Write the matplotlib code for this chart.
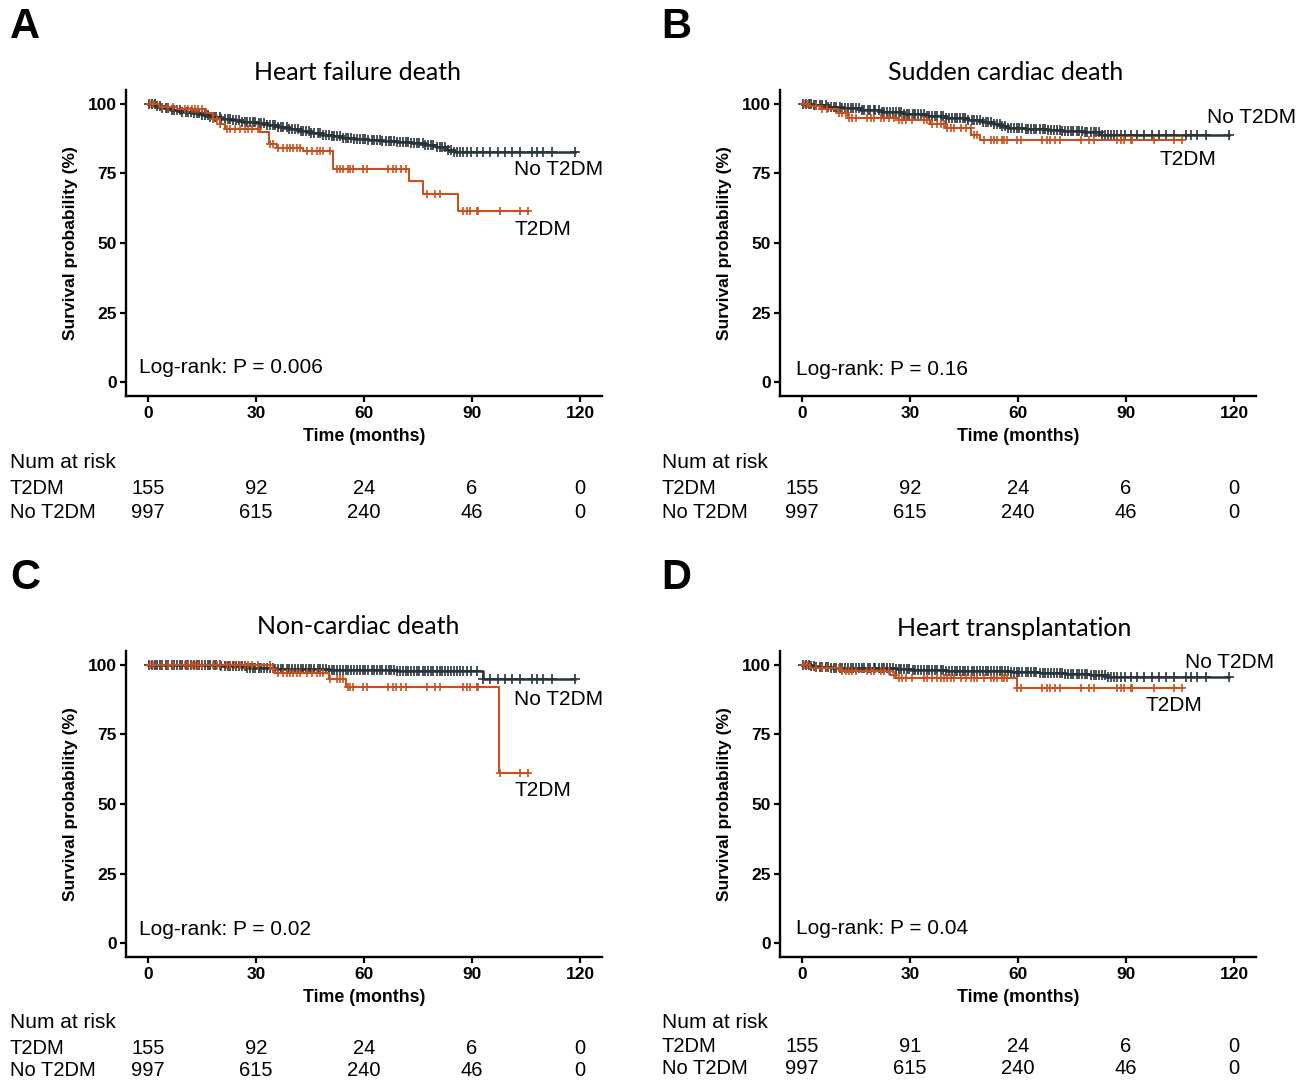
import matplotlib
matplotlib.use('Agg')
import matplotlib.pyplot as plt
import matplotlib.transforms as mtransforms
import numpy as np

W, H = 1306, 1081
COL_T2DM = '#c8501e'
COL_NO = '#28343a'
SANS = 'Liberation Sans'
TITLE_FONT = 'Lato'

# ---- Kaplan-Meier step data (time of step, survival % after step) ----
a_no_t = [0, 2, 4, 6, 9, 12, 15, 17, 20, 23, 26, 30, 33, 36, 39, 42, 45, 48, 51, 54, 57, 61, 65, 69, 73, 77, 80, 83, 85]
a_no_s = [100, 99.4, 98.6, 97.8, 97.2, 96.7, 96.0, 95.2, 94.6, 94.1, 93.6, 93.0, 92.4, 91.8, 91.0, 90.2, 89.5, 88.9,
          88.4, 87.9, 87.5, 87.1, 86.7, 86.3, 85.8, 85.3, 84.6, 83.6, 82.7]
a_dm_t = [0, 3, 8, 16, 18, 20, 21.5, 31, 33.5, 35.7, 43, 51.5, 72.5, 76.5, 86]
a_dm_s = [100, 99.0, 98.0, 96.6, 94.4, 92.6, 91.0, 89.8, 85.5, 84.3, 82.9, 76.6, 72.3, 67.7, 61.5]

b_no_t = [0, 3, 7, 11, 16, 22, 28, 34, 40, 46, 50, 53, 55, 57, 62, 68, 72, 78, 83]
b_no_s = [100, 99.5, 99.0, 98.4, 97.8, 97.1, 96.4, 95.6, 94.9, 94.1, 93.5, 92.8, 92.0, 91.2, 90.9, 90.6, 90.3, 89.8, 89.0]
b_dm_t = [0, 1.7, 5, 10, 12.8, 27, 35.5, 40, 47, 49.4]
b_dm_s = [100, 99.1, 98.1, 96.9, 95.0, 94.1, 92.9, 91.2, 88.8, 86.9]

c_no_t = [0, 20, 27, 35, 50, 69, 93]
c_no_s = [100, 99.5, 98.8, 98.4, 98.1, 97.8, 95.0]
c_dm_t = [0, 34, 35, 50.3, 55, 97.5]
c_dm_s = [100, 98.4, 97.2, 95.1, 92.0, 61.2]

d_no_t = [0, 2, 4, 8, 14, 20, 26, 30, 40, 50, 58, 66, 73, 80, 84.5]
d_no_s = [100, 99.6, 99.3, 99.0, 98.9, 98.8, 98.4, 98.2, 97.9, 97.7, 97.5, 97.2, 96.8, 96.3, 95.6]
d_dm_t = [0, 2.3, 10.5, 24.4, 26.2, 59.7]
d_dm_s = [100, 98.8, 97.8, 96.3, 95.3, 91.6]

end_no = 118.6
end_dm = 105.6

# censoring times (same cohort in every panel)
cens_no = [0.4, 1.1, 1.9, 2.5, 3.4, 4.0, 4.9, 5.5, 6.6, 7.1, 8.0, 8.9, 9.4, 10.5, 11.2, 11.9, 12.8, 13.6,
           14.2, 15.1, 15.8, 16.7, 17.3, 18.2, 19.0, 19.9, 20.4, 21.3, 22.1, 22.9, 23.5, 24.4, 25.2, 26.0,
           26.9, 27.4, 28.3, 29.2, 29.8, 30.7, 31.5, 32.1, 33.0, 33.9, 34.6, 35.2, 36.1, 37.0, 37.6, 38.5,
           39.3, 40.1, 40.7, 41.6, 42.4, 43.0, 43.9, 44.8, 45.3, 46.2, 47.1, 47.7, 48.6, 49.5, 50.2, 51.0,
           51.8, 52.5, 53.3, 54.2, 54.9, 55.6, 56.5, 57.3, 58.0, 58.8, 59.7, 60.3, 61.2, 62.1, 62.7, 63.6,
           64.5, 65.1, 66.0, 66.9, 67.5, 68.4, 69.2, 69.9, 70.7, 71.6, 72.2, 73.1, 73.9, 74.6, 75.4, 76.3,
           77.0, 77.8, 78.7, 79.3, 80.2, 81.0, 81.7, 82.6, 83.4, 84.1, 85.0, 85.9, 86.7, 87.4, 88.5, 89.6,
           91.3, 93.1, 95.0, 97.3, 99.2, 101.0, 103.3, 106.6, 108.0, 109.8, 112.1, 118.6]
cens_dm = [0.6, 1.5, 3.8, 5.6, 7.0, 10.3, 11.2, 12.1, 13.0, 14.0, 14.9, 18.1, 19.1, 20.0, 21.9, 22.8,
           24.2, 25.6, 27.0, 27.9, 28.8, 30.6, 33.9, 34.8, 36.0, 37.6, 38.5, 39.4, 40.4, 41.3, 42.2, 44.1,
           45.5, 46.9, 47.8, 48.7, 50.6, 52.4, 53.3, 54.3, 55.5, 56.1, 57.0, 59.8, 60.7, 66.8, 68.1, 69.0,
           70.4, 71.8, 77.4, 79.7, 81.1, 87.6, 88.5, 89.4, 91.3, 91.8, 97.8, 103.3, 105.6]

# ---- panel texts ----
letters = ['A', 'B', 'C', 'D']
titles = ['Heart failure death', 'Sudden cardiac death', 'Non-cardiac death', 'Heart transplantation']
pvals = ['Log-rank: P = 0.006', 'Log-rank: P = 0.16', 'Log-rank: P = 0.02', 'Log-rank: P = 0.04']
risk_times = [0, 30, 60, 90, 120]
risk_dm = [[155, 92, 24, 6, 0], [155, 92, 24, 6, 0], [155, 92, 24, 6, 0], [155, 91, 24, 6, 0]]
risk_no = [[997, 615, 240, 46, 0]] * 4

curves = [(a_no_t, a_no_s, a_dm_t, a_dm_s), (b_no_t, b_no_s, b_dm_t, b_dm_s),
          (c_no_t, c_no_s, c_dm_t, c_dm_s), (d_no_t, d_no_s, d_dm_t, d_dm_s)]

# layout in pixels
layout = [
    dict(ax=(126.4, 90, 475.2, 306), letter=(25, 27), title=(358, 73), ylab=70,
         no_lab=(101.7, 76.3), dm_lab=(101.7, 55.0), p=(-2.4, 5.4), rows=(10, 462, 489, 512)),
    dict(ax=(780.4, 90, 475.2, 306), letter=(676, 27), title=(1006, 73), ylab=724,
         no_lab=(112.5, 95.0), dm_lab=(99.4, 79.9), p=(-1.6, 4.7), rows=(662, 462, 489, 512)),
    dict(ax=(126.4, 651, 475.2, 306), letter=(25, 578), title=(358, 626), ylab=70,
         no_lab=(101.7, 87.4), dm_lab=(101.7, 55.0), p=(-2.4, 5.0), rows=(10, 1023, 1049, 1071)),
    dict(ax=(780.4, 651, 475.2, 306), letter=(676, 578), title=(1014, 629), ylab=724,
         no_lab=(106.4, 100.7), dm_lab=(95.3, 85.3), p=(-1.6, 5.4), rows=(662, 1023, 1047, 1069)),
]


def fx(x):
    return x / W


def fy(y):
    return 1 - y / H


def km_line(ax, times, surv, end, cens, color, lw, ms):
    t = list(times) + [end]
    s = list(surv) + [surv[-1]]
    ax.step(t, s, where='post', color=color, lw=lw, zorder=3)
    # censor marks sit on the curve
    c = np.array([v for v in cens if v <= end])
    idx = np.searchsorted(np.array(times), c, side='right') - 1
    ax.plot(c, np.array(surv)[idx], ls='none', marker='+', ms=ms, mew=1.2, color=color, zorder=3)


fig = plt.figure(figsize=(W / 100, H / 100), dpi=100)

for i in range(4):
    L = layout[i]
    x0, y0, w, h = L['ax']
    ax = fig.add_axes([fx(x0), fy(y0 + h), w / W, h / H])
    no_t, no_s, dm_t, dm_s = curves[i]
    km_line(ax, no_t, no_s, end_no, cens_no, COL_NO, 1.8, 6.5)
    km_line(ax, dm_t, dm_s, end_dm, cens_dm, COL_T2DM, 1.5, 6)

    ax.set_xlim(-6, 126)
    ax.set_ylim(-5, 105)
    ax.set_xticks([0, 30, 60, 90, 120])
    ax.set_yticks([0, 25, 50, 75, 100])
    for side in ['top', 'right']:
        ax.spines[side].set_visible(False)
    for side in ['left', 'bottom']:
        ax.spines[side].set_linewidth(1.7)
    ax.tick_params(length=4, width=1.6, pad=3, labelsize=12.5)
    for lab in ax.get_xticklabels() + ax.get_yticklabels():
        lab.set_fontweight('bold')
        lab.set_family(SANS)

    ax.text(0.5, -0.105, 'Time (months)', transform=ax.transAxes, ha='center', va='top',
            fontsize=12.8, fontweight='bold', family=SANS)
    fig.text(fx(L['ylab']), fy(y0 + h / 2), 'Survival probability (%)', rotation=90,
             ha='center', va='center', fontsize=12.5, fontweight='bold', family=SANS)

    ax.text(L['no_lab'][0], L['no_lab'][1], 'No T2DM', ha='left', va='center', fontsize=15, family=SANS)
    ax.text(L['dm_lab'][0], L['dm_lab'][1], 'T2DM', ha='left', va='center', fontsize=15, family=SANS)
    ax.text(L['p'][0], L['p'][1], pvals[i], ha='left', va='center', fontsize=15, family=SANS)

    fig.text(fx(L['letter'][0]), fy(L['letter'][1]), letters[i], ha='center', va='center',
             fontsize=30, fontweight='bold', family=SANS)
    fig.text(fx(L['title'][0]), fy(L['title'][1]), titles[i], ha='center', va='center',
             fontsize=18, family=TITLE_FONT)

    # number at risk table
    rx, hy, r1, r2 = L['rows']
    fig.text(fx(rx), fy(hy), 'Num at risk', ha='left', va='center', fontsize=15, family=SANS)
    fig.text(fx(rx), fy(r1), 'T2DM', ha='left', va='center', fontsize=14.5, family=SANS)
    fig.text(fx(rx), fy(r2), 'No T2DM', ha='left', va='center', fontsize=14.5, family=SANS)
    trans = mtransforms.blended_transform_factory(ax.transData, fig.transFigure)
    for t, n1, n2 in zip(risk_times, risk_dm[i], risk_no[i]):
        ax.text(t, fy(r1), str(n1), transform=trans, ha='center', va='center', fontsize=14.5, family=SANS)
        ax.text(t, fy(r2), str(n2), transform=trans, ha='center', va='center', fontsize=14.5, family=SANS)

fig.savefig('out.png', dpi=100)
plt.close(fig)
